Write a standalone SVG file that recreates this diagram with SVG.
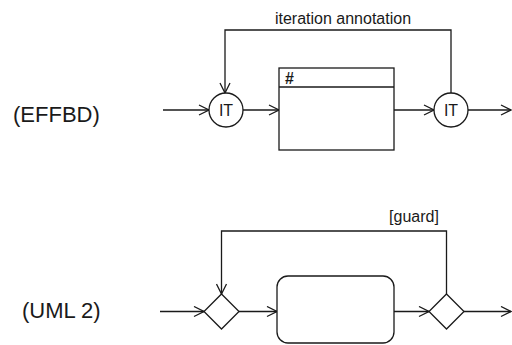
<svg xmlns="http://www.w3.org/2000/svg" width="512" height="345" viewBox="0 0 512 345">
<style>
.ln{fill:none;stroke:#1a1a1a;stroke-width:1.3}
.nd{fill:#fff;stroke:#1a1a1a;stroke-width:1.3}
.t{font-family:"Liberation Sans",Arial,sans-serif;fill:#1a1a1a}
</style>
<defs>
<marker id="ah" markerWidth="12" markerHeight="12" viewBox="0 0 12 12" refX="11" refY="6" orient="auto" markerUnits="userSpaceOnUse">
<path d="M1,1 L11,6 L1,11" fill="none" stroke="#1a1a1a" stroke-width="1.3"/>
</marker>
</defs>
<rect width="512" height="345" fill="#fff"/>
<text class="t" x="13" y="122" font-size="22">(EFFBD)</text>
<text class="t" x="22" y="318" font-size="22">(UML 2)</text>
<g id="connectors">
<line class="ln" x1="163" y1="110" x2="209" y2="110" marker-end="url(#ah)"/>
<line class="ln" x1="243" y1="110" x2="279" y2="110" marker-end="url(#ah)"/>
<line class="ln" x1="394" y1="110" x2="434" y2="110" marker-end="url(#ah)"/>
<line class="ln" x1="468" y1="110" x2="511" y2="110" marker-end="url(#ah)"/>
<polyline class="ln" points="451,93 451,30 225,30 225,93" marker-end="url(#ah)"/>
<text class="t" x="343" y="24" font-size="16" text-anchor="middle">iteration annotation</text>
<line class="ln" x1="160" y1="311.5" x2="204" y2="311.5" marker-end="url(#ah)"/>
<line class="ln" x1="239" y1="311.5" x2="277" y2="311.5" marker-end="url(#ah)"/>
<line class="ln" x1="394" y1="311.5" x2="429" y2="311.5" marker-end="url(#ah)"/>
<line class="ln" x1="464" y1="311.5" x2="511" y2="311.5" marker-end="url(#ah)"/>
<polyline class="ln" points="446.5,294 446.5,231 221.5,231 221.5,294" marker-end="url(#ah)"/>
<text class="t" x="414" y="222" font-size="16" text-anchor="middle">[guard]</text>
</g>
<g id="it1">
<circle class="nd" cx="226" cy="110" r="17"/>
<text class="t" x="226" y="116" font-size="16" text-anchor="middle">IT</text>
</g>
<g id="func">
<rect class="nd" x="279" y="68" width="115" height="82"/>
<line class="ln" x1="279" y1="87" x2="394" y2="87"/>
<text class="t" x="285" y="84" font-size="16" font-weight="bold">#</text>
</g>
<g id="it2">
<circle class="nd" cx="451" cy="110" r="17"/>
<text class="t" x="451" y="116" font-size="16" text-anchor="middle">IT</text>
</g>
<g id="dec1">
<polygon class="nd" points="221.5,294 239,311.5 221.5,329 204,311.5"/>
</g>
<g id="action">
<rect class="nd" x="277" y="276" width="117" height="67" rx="11"/>
</g>
<g id="dec2">
<polygon class="nd" points="446.5,294 464,311.5 446.5,329 429,311.5"/>
</g>
</svg>
